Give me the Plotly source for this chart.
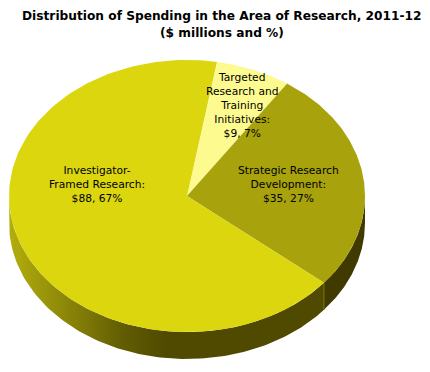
import numpy as np
import plotly.graph_objects as go

title_lines = ["Distribution of Spending in the Area of Research, 2011-12", "($ millions and %)"]
categories = ["Targeted Research and Training Initiatives", "Strategic Research Development", "Investigator-Framed Research"]
values = [9, 35, 88]
labels = ["Targeted<br>Research and<br>Training<br>Initiatives:<br>$9, 7%",
          "Strategic Research<br>Development:<br>$35, 27%",
          "Investigator-<br>Framed Research:<br>$88, 67%"]
top_colors = ["#fdfb90", "#a8a20c", "#dbd60e"]
label_xy = [(242, 105), (288, 184), (96.5, 184)]

W, H = 430, 372
OFF = 8  # the page's own body margin
CX, CY, RX, RY, DEPTH = 187, 196, 178, 136, 27
START = 9.7

def pt(a):
    r = np.radians(a)
    return CX + RX * np.sin(r), CY - RY * np.cos(r)

fig = go.Figure()
fracs = np.array(values) / sum(values) * 360
edges = START + np.concatenate([[0], np.cumsum(fracs)])

def wall(a0, a1, grad=None, color=None):
    ang = np.linspace(a0, a1, 120)
    x, y = pt(ang)
    xs = list(x) + list(x[::-1])
    ys = list(y) + list((y + DEPTH)[::-1])
    kw = dict(fillgradient=dict(type="horizontal", colorscale=grad)) if grad else dict(fillcolor=color)
    fig.add_trace(go.Scatter(x=xs, y=ys, mode="lines", line=dict(width=0), fill="toself",
                             hoverinfo="skip", showlegend=False, **kw))

wall(90, edges[2], color="#403a00")
wall(edges[2], 270, grad=[[0, "#b3ae0c"], [0.18, "#8c8708"], [0.36, "#625d02"], [0.5, "#4f4a00"], [1, "#4f4a00"]])

# thin light seam on the wall where the two slices meet
sx, sy = pt(edges[2])
fig.add_trace(go.Scatter(x=[sx, sx], y=[sy, sy + DEPTH], mode="lines", line=dict(width=1, color="#77730c"),
                         hoverinfo="skip", showlegend=False))

for i, c in enumerate(categories):
    ang = np.linspace(edges[i], edges[i + 1], 160)
    x, y = pt(ang)
    fig.add_trace(go.Scatter(x=[CX] + list(x) + [CX], y=[CY] + list(y) + [CY], mode="lines",
                             line=dict(width=0), fill="toself", fillcolor=top_colors[i],
                             name=c, hoverinfo="name", showlegend=False))

ann = [dict(x=221.5, y=y, text=f"<b>{t}</b>", showarrow=False, xref="x", yref="y",
            font=dict(family="DejaVu Sans", size=12.2, color="#000"))
       for t, y in zip(title_lines, (16, 33))]
for t, (x, y) in zip(labels, label_xy):
    ann.append(dict(x=x, y=y, text=t, showarrow=False, xref="x", yref="y", align="center",
                    font=dict(family="DejaVu Sans", size=10.7, color="#000")))

fig.update_layout(width=W - OFF, height=H - OFF, margin=dict(l=0, r=0, t=0, b=0), paper_bgcolor="white",
                  plot_bgcolor="white", annotations=ann,
                  xaxis=dict(range=[OFF, W], visible=False, fixedrange=True),
                  yaxis=dict(range=[H, OFF], visible=False, fixedrange=True))
fig.write_html("out.html")
